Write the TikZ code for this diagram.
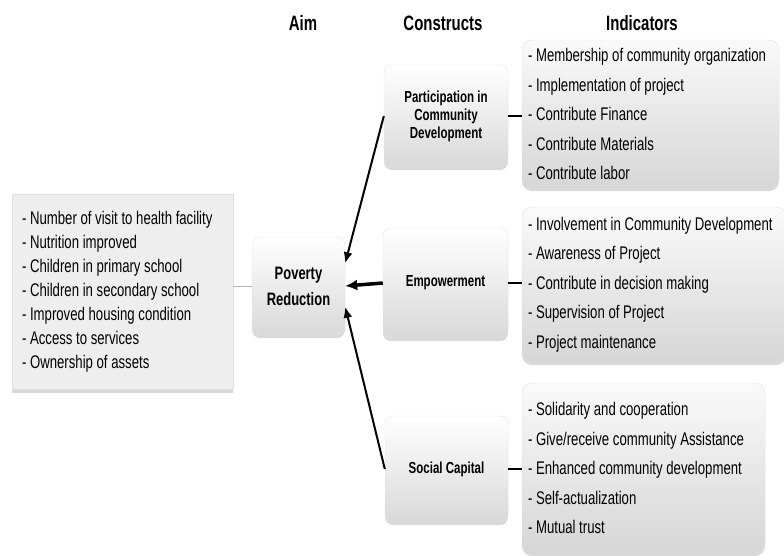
\documentclass[tikz,border=0pt]{standalone}
\usepackage{fontspec}
\setmainfont{Liberation Sans}[FakeStretch=0.72]
\setsansfont{Liberation Sans}[FakeStretch=0.72]
\usetikzlibrary{arrows.meta, shapes, shadows}

% narrow word spaces inside the left-aligned lists
\newcommand{\tightsp}{\spaceskip=0.2em\xspaceskip=0.2em\hyphenpenalty=10000\relax}

\begin{document}
\begin{tikzpicture}[x=1pt, y=-1pt, font=\sffamily,
	title/.style={font=\fontsize{20.8}{22}\selectfont\bfseries},
	listbox/.style={rectangle, rounded corners=10pt, top color=gray!4, bottom color=gray!32, draw=gray!25,
		drop shadow={shadow xshift=0pt, shadow yshift=-3pt, opacity=0.3},
		align=left, inner xsep=6pt, inner ysep=0pt, font=\fontsize{18.3}{29.5}\selectfont},
	aimbox/.style={rectangle, fill=gray!13, draw=gray!25,
		drop shadow={shadow xshift=0pt, shadow yshift=-3pt, opacity=0.3},
		align=left, inner xsep=10pt, inner ysep=0pt, font=\fontsize{18.3}{24}\selectfont},
	cbox/.style={rectangle, rounded corners=8pt, top color=white, bottom color=gray!30, draw=gray!20,
		drop shadow={shadow xshift=0pt, shadow yshift=-3pt, opacity=0.3},
		align=center, font=\fontsize{16}{18}\selectfont\bfseries},
	link/.style={line width=2pt},
	arrow/.style={line width=2pt, -{Latex[length=11pt, width=9pt]}}]
	\def\W{784}
	\def\H{555}

	\useasboundingbox	(0,0) rectangle (\W,\H);

	\node[title]	(taim) at (303,23) {Aim};
	\node[title]	(tcon) at (443,23) {Constructs};
	\node[title]	(tind) at (642,23) {Indicators};

	\node[aimbox, text width=201pt, minimum height=195pt]	(aim) at (122.5,292) {\tightsp
		- Number of visit to health facility\\
		- Nutrition improved\\
		- Children in primary school\\
		- Children in secondary school\\
		- Improved housing condition\\
		- Access to services\\
		- Ownership of assets};

	\node[cbox, minimum width=93pt, minimum height=98pt, font=\fontsize{18}{26}\selectfont\bfseries]	(pov) at (298.5,286) {Poverty\\Reduction};

	\node[cbox, minimum width=124pt, minimum height=102pt]	(part) at (446,116) {Participation in\\Community\\Development};
	\node[cbox, minimum width=125pt, minimum height=110pt]	(emp) at (445.5,283) {Empowerment};
	\node[cbox, minimum width=123pt, minimum height=106pt]	(soc) at (446.5,469) {Social Capital};

	\node[listbox, text width=245pt, minimum height=148pt]	(ind1) at (650.5,114) {\tightsp
		- Membership of community organization\\
		- Implementation of project\\
		- Contribute Finance\\
		- Contribute Materials\\
		- Contribute labor};
	\node[listbox, text width=252pt, minimum height=155pt]	(ind2) at (654,284.5) {\tightsp
		- Involvement in Community Development\\
		- Awareness of Project\\
		- Contribute in decision making\\
		- Supervision of Project\\
		- Project maintenance};
	\node[listbox, text width=231pt, minimum height=170pt]	(ind3) at (643.5,468) {\tightsp
		- Solidarity and cooperation\\
		- Give/receive community Assistance\\
		- Enhanced community development\\
		- Self-actualization\\
		- Mutual trust};

	% aim list to aim, constructs to indicators
	\draw[gray!60, line width=1pt]	(pov.west -| aim.east) -- (pov.west);
	\draw[link]	(part.east) -- (part.east -| ind1.west);
	\draw[link]	(emp.east) -- (emp.east -| ind2.west);
	\draw[link]	(soc.east) -- (soc.east -| ind3.west);

	% constructs feeding poverty reduction
	\draw[arrow]	(part.west) -- (pov.26);
	\draw[arrow, line width=3.5pt, -{Latex[length=12pt, width=11pt]}]	(emp.west) -- (pov.east);
	\draw[arrow]	(soc.west) -- (pov.-24);
\end{tikzpicture}
\end{document}
